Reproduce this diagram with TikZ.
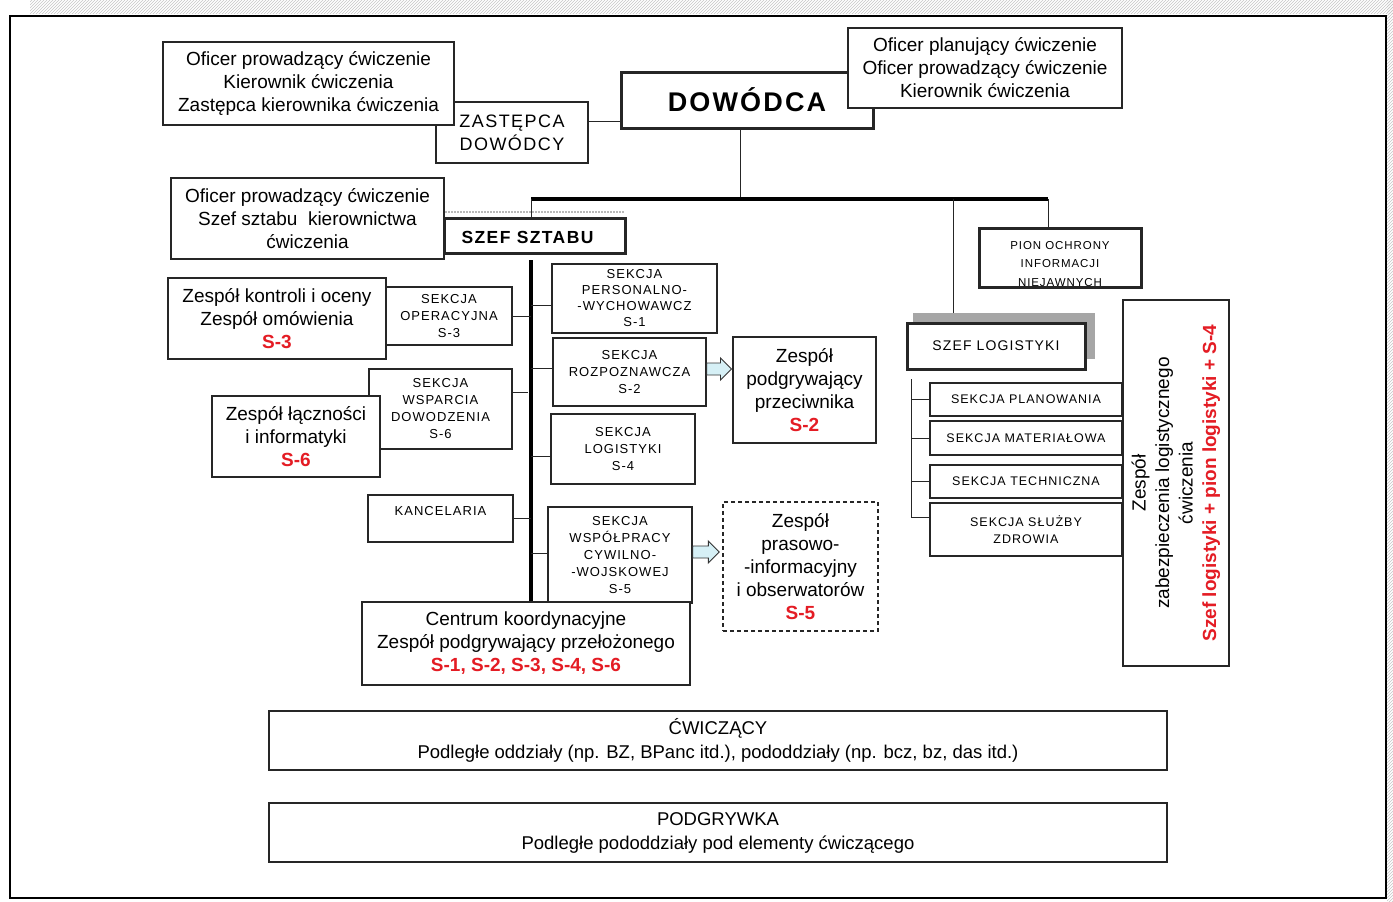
\documentclass[tikz,border=0pt]{standalone}
\usepackage{fontspec}
\setmainfont{Liberation Sans}
\newfontfamily\capsfont[LetterSpace=8]{Liberation Sans}
\usetikzlibrary{patterns,calc}
\definecolor{redS}{RGB}{228,28,36}
\definecolor{arrowfill}{RGB}{214,240,246}
\newcommand\rs[1]{{\color{redS}\bfseries #1}}
\newcommand\blockarr[2]{%
  \draw[draw=black!80,fill=arrowfill,line width=0.9pt]
    ($(#1)+(0,-6)$) -- ($(#2)+(-11,-6)$) -- ($(#2)+(-11,-11)$) -- (#2)
    -- ($(#2)+(-11,11)$) -- ($(#2)+(-11,6)$) -- ($(#1)+(0,6)$) -- cycle;}
\begin{document}
\begin{tikzpicture}[x=1pt,y=-1pt,
  box/.style={draw=black!85,line width=1.1pt,fill=white,inner sep=0pt,align=center,
              font=\fontsize{19}{23}\selectfont},
  thickbox/.style={box,line width=3pt},
  medbox/.style={box,line width=2pt},
  sec/.style={box,font=\capsfont\fontsize{13}{17}\selectfont},
  lsec/.style={box,font=\capsfont\fontsize{12.5}{17}\selectfont},
  conn/.style={draw=black!85,line width=0.9pt},
  bus/.style={draw=black,line width=3.2pt}]
\useasboundingbox (0,0) rectangle (1393,902);
% background and frame
\fill[pattern=north east lines,pattern color=gray!45] (30,0) rectangle (1393,13);
\fill[pattern=north east lines,pattern color=gray!45] (1387,0) rectangle (1393,902);
\draw[fill=white,line width=1.8pt] (10,16) rectangle (1386,898);

% top level
\node[medbox,minimum width=152,minimum height=61,font=\capsfont\fontsize{18}{23}\selectfont] (ZAS) at (512,132.5) {ZASTĘPCA\\DOWÓDCY};
\node[box,minimum width=291,minimum height=83] (A) at (308.5,83.5) {Oficer prowadzący ćwiczenie\\Kierownik ćwiczenia\\Zastępca kierownika ćwiczenia};
\node[thickbox,minimum width=252,minimum height=56,font=\capsfont\bfseries\fontsize{27}{30}\selectfont] (DOW) at (747,100) {DOWÓDCA};
\node[box,minimum width=274,minimum height=80] (B) at (985,68) {Oficer planujący ćwiczenie\\Oficer prowadzący ćwiczenie\\Kierownik ćwiczenia};

\coordinate (zd) at ($(ZAS.east)+(0,-11.5)$);
\draw[conn] (zd) -- (zd -| DOW.west);

% staff
\draw[gray!55,line width=2pt,dash pattern=on 1.5pt off 1.5pt] (445,212) -- (625,212);
\node[box,minimum width=273,minimum height=81] (C) at (307.5,218.5) {Oficer prowadzący ćwiczenie\\Szef sztabu~ kierownictwa\\ćwiczenia};
\node[thickbox,minimum width=181,minimum height=35,
  label={[font=\capsfont\bfseries\fontsize{17.5}{20}\selectfont,xshift=-7pt,yshift=-2pt]center:SZEF SZTABU}] (SZ) at (534.5,235.5) {};

\node[thickbox,minimum width=162,minimum height=59,
  label={[font=\capsfont\fontsize{11.5}{18.5}\selectfont,align=center,yshift=-6.5pt]center:{PION OCHRONY\\INFORMACJI\\NIEJAWNYCH}}] (PION) at (1060,257.5) {};

\node[fill=gray!70,minimum width=182,minimum height=46,inner sep=0pt] (SZLsh) at (1004,336) {};
\node[thickbox,minimum width=178,minimum height=46,font=\capsfont\fontsize{14}{17}\selectfont] (SZL) at (996,346) {SZEF LOGISTYKI};

% bus
\coordinate (busL) at (531,199);
\coordinate (busR) at (1048,199);
\coordinate (busM) at (953,199);
\coordinate (busD) at (740,199);
\draw[conn] (busD |- DOW.south) -- (busD);
\draw[bus] (busL) -- (busR);
\draw[conn] (busL) -- (busL |- SZ.north);
\draw[conn] (busR) -- (busR |- PION.north);
\draw[conn] (busM) -- (busM |- SZLsh.north);

% left sections
\node[sec,minimum width=126,minimum height=58] (OPER) at (449,316) {SEKCJA\\OPERACYJNA\\S-3};
\node[box,minimum width=218,minimum height=81] (KON) at (277,318.5) {Zespół kontroli i oceny\\Zespół omówienia\\\rs{S-3}};
\node[sec,minimum width=143,minimum height=80] (WSP) at (440.5,409) {SEKCJA\\WSPARCIA\\DOWODZENIA\\S-6};
\node[box,minimum width=168,minimum height=81] (LACZ) at (296,436.5) {Zespół łączności\\i informatyki\\\rs{S-6}};
\node[sec,minimum width=145,minimum height=47,line width=1.5pt,
  label={[font=\capsfont\fontsize{13}{17}\selectfont,yshift=7.5pt]center:KANCELARIA}] (KANC) at (440.5,518.5) {};

% right sections
\node[sec,minimum width=165,minimum height=69,font=\capsfont\fontsize{13}{16}\selectfont] (PERS) at (634.5,298.5) {SEKCJA\\PERSONALNO-\\-WYCHOWAWCZ\\S-1};
\node[sec,minimum width=153,minimum height=68] (ROZ) at (629.5,372) {SEKCJA\\ROZPOZNAWCZA\\S-2};
\node[sec,minimum width=144,minimum height=70] (LOG4) at (623,449) {SEKCJA\\LOGISTYKI\\S-4};
\node[sec,minimum width=144,minimum height=96] (S5) at (620,555) {SEKCJA\\WSPÓŁPRACY\\CYWILNO-\\-WOJSKOWEJ\\S-5};

% spine
\coordinate (spT) at (531,260);
\draw[bus] (spT) -- (531,602);
\node[box,minimum width=328,minimum height=83] (CENT) at (526,643.5) {Centrum koordynacyjne\\Zespół podgrywający przełożonego\\\rs{S-1, S-2, S-3, S-4, S-6}};

\draw[conn] (OPER.east) -- (OPER.east -| spT);
\coordinate (wc) at ($(WSP.east)+(0,-17)$);
\draw[conn] (wc) -- ($(wc -| spT)+(-3,0)$);
\draw[conn] (KANC.east) -- (KANC.east -| spT);
\coordinate (pc) at ($(PERS.west)+(0,6.5)$);
\draw[conn] (pc -| spT) -- (pc);
\coordinate (rc) at ($(ROZ.west)+(0,-4)$);
\draw[conn] (rc -| spT) -- (rc);
\coordinate (lc) at ($(LOG4.west)+(0,7)$);
\draw[conn] (lc -| spT) -- (lc);
\coordinate (sc) at ($(S5.west)+(0,-2)$);
\draw[conn] (sc -| spT) -- (sc);

% opponent teams
\node[box,minimum width=143,minimum height=106] (PRZEC) at (804.5,390) {Zespół\\podgrywający\\przeciwnika\\\rs{S-2}};
\node[box,dash pattern=on 4pt off 3pt,line width=1.3pt,minimum width=155,minimum height=129] (PRAS) at (800.5,566.5) {Zespół\\prasowo-\\-informacyjny\\i obserwatorów\\\rs{S-5}};
\coordinate (ra1) at ($(ROZ.east)+(0,-3)$);
\coordinate (ra2) at ($(ra1 -| PRZEC.west)+(-1,0)$);
\blockarr{ra1}{ra2}
\coordinate (sa1) at ($(S5.east)+(0,-3)$);
\coordinate (sa2) at ($(sa1 -| PRAS.west)+(-3,0)$);
\blockarr{sa1}{sa2}

% logistics
\node[lsec,minimum width=192,minimum height=33] (PLAN) at (1026,399.5) {SEKCJA PLANOWANIA};
\node[lsec,minimum width=192,minimum height=34] (MAT) at (1026,438) {SEKCJA MATERIAŁOWA};
\node[lsec,minimum width=192,minimum height=33] (TECH) at (1026,481.5) {SEKCJA TECHNICZNA};
\node[lsec,minimum width=192,minimum height=53] (ZDR) at (1026,529.5) {SEKCJA SŁUŻBY\\ZDROWIA};
\coordinate (lb) at (911,379);
\coordinate (zt) at ($(ZDR.west)+(0,-12.5)$);
\draw[conn] (lb) -- (lb |- zt) -- (zt);
\draw[conn] (lb |- PLAN.west) -- (PLAN.west);
\draw[conn] (lb |- MAT.west) -- (MAT.west);
\draw[conn] (lb |- TECH.west) -- (TECH.west);
\node[box,rotate=90,minimum width=366,minimum height=106,font=\fontsize{19}{23.5}\selectfont] (ZESP) at (1176,483) {Zespół\\zabezpieczenia logistycznego\\ćwiczenia\\\rs{Szef logistyki + pion logistyki + S-4}};

% bottom
\node[box,minimum width=898,minimum height=59,font=\fontsize{18.5}{24}\selectfont] (CW) at (718,740.5) {ĆWICZĄCY\\Podległe oddziały (np. BZ, BPanc itd.), pododdziały (np. bcz, bz, das itd.)};
\node[box,minimum width=898,minimum height=59,font=\fontsize{18.5}{24}\selectfont] (POD) at (718,832.5) {PODGRYWKA\\Podległe pododdziały pod elementy ćwiczącego};
\end{tikzpicture}
\end{document}
